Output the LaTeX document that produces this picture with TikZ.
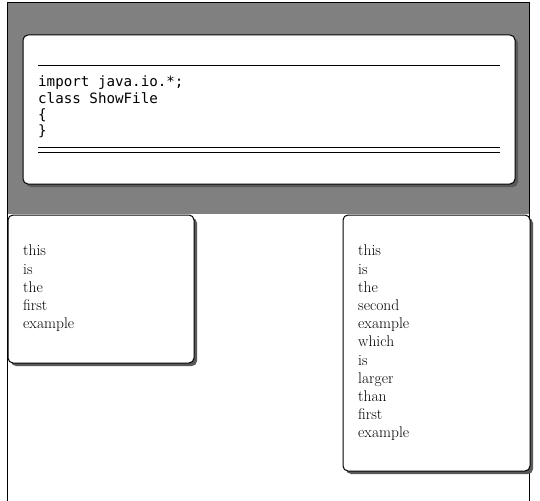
\documentclass[tikz,border=0pt]{standalone}
\usepackage{fontspec}
\newfontfamily\codefont{DejaVu Sans Mono}
\usetikzlibrary{positioning, shadows}

\begin{document}
\begin{tikzpicture}[
    x=1pt, y=-1pt,
    panel/.style={draw, line width=1pt, fill=white, rounded corners=5pt,
                  drop shadow={shadow xshift=3pt, shadow yshift=-3pt,
                               fill=black!65, opacity=1}},
    bodytext/.style={anchor=north west, inner sep=0pt, align=left,
                     font=\fontsize{15.5}{18.2}\selectfont},
    codetext/.style={anchor=north west, inner sep=0pt, align=left,
                     font=\codefont\fontsize{14.2}{16.3}\selectfont},
    rule/.style={line width=0.9pt}
]
\useasboundingbox (0,0) rectangle (540,500);

% --- bandeau gris et cadre ---
\fill[gray] (7,3) rectangle (529,214);
\draw[line width=1pt] (7,503) -- (7,3) -- (529,3) -- (529,503);

% --- boite du code ---
\node[panel, minimum width=492pt, minimum height=149pt] (codebox) at (269,109.5) {};
\coordinate (rtopL) at (38,65);
\coordinate (rtopR) at (500,65);
\coordinate (rbotL) at (38,147);
\coordinate (rbotR) at (500,147);
\coordinate (rbbL) at (38,152);
\coordinate (rbbR) at (500,152);
\draw[rule] (rtopL) -- (rtopR);
\draw[rule] (rbotL) -- (rbotR);
\draw[rule] (rbbL) -- (rbbR);
\node[codetext] (code) at (38,76) {import java.io.*;\\class ShowFile\\\{\\\}};

% --- premier exemple ---
\node[panel, minimum width=186pt, minimum height=148pt] (first) at (101,289) {};
\node[bodytext] (firsttxt) at (23,245) {this\\is\\the\\first\\example};

% --- second exemple ---
\node[panel, minimum width=187pt, minimum height=256pt] (second) at (436.5,343) {};
\node[bodytext] (secondtxt) at (358,245)
    {this\\is\\the\\second\\example\\which\\is\\larger\\than\\first\\example};

\end{tikzpicture}
\end{document}
